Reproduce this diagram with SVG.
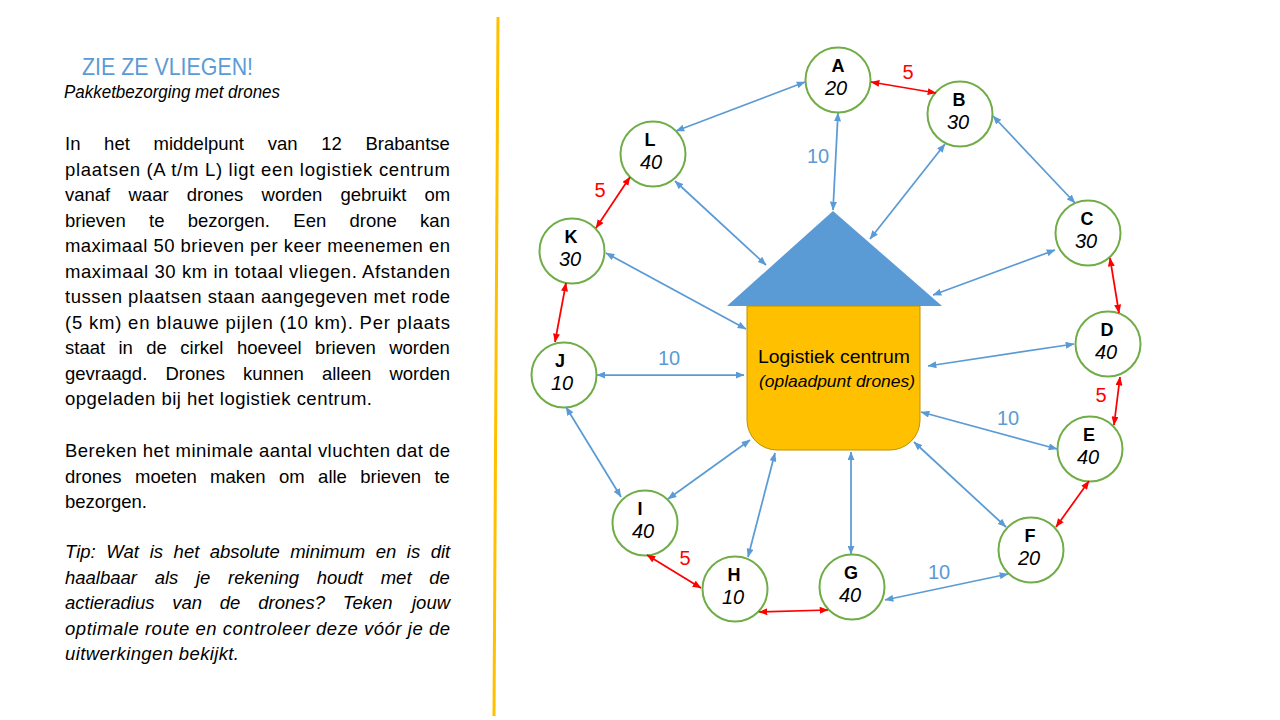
<svg xmlns="http://www.w3.org/2000/svg" width="1280" height="720" viewBox="0 0 1280 720">
<defs>
<style>
.t{font-family:"Liberation Sans",Arial,sans-serif;font-size:18.5px;fill:#000}
.i{font-style:italic}
.lb{font-family:"Liberation Sans",Arial,sans-serif;font-weight:bold;font-size:18px;text-anchor:middle;fill:#000}
.num{font-family:"Liberation Sans",Arial,sans-serif;font-style:italic;font-size:20px;text-anchor:middle;fill:#000}
.node circle{fill:#fff;stroke:#70AD47;stroke-width:2}
.b{stroke:#5B9BD5;stroke-width:1.75;fill:none;marker-start:url(#ab);marker-end:url(#ab)}
.r{stroke:#FF0000;stroke-width:1.75;fill:none;marker-start:url(#ar);marker-end:url(#ar)}
.lbl{font-family:"Liberation Sans",Arial,sans-serif;font-size:20px;text-anchor:middle}
.lr{fill:#FF0000}
.lbb{fill:#5B9BD5}
</style>
<marker id="ab" viewBox="0 0 10 8" refX="9.5" refY="4" markerWidth="9" markerHeight="7" markerUnits="userSpaceOnUse" orient="auto-start-reverse"><path d="M0,0 L10,4 L0,8 z" fill="#5B9BD5"/></marker>
<marker id="ar" viewBox="0 0 10 8" refX="9.5" refY="4" markerWidth="9" markerHeight="7" markerUnits="userSpaceOnUse" orient="auto-start-reverse"><path d="M0,0 L10,4 L0,8 z" fill="#FF0000"/></marker>
</defs>
<rect width="1280" height="720" fill="#fff"/>

<g id="text-panel">
<text x="82" y="75" font-family="'Liberation Sans',Arial,sans-serif" font-size="24" fill="#5B9BD5" textLength="171" lengthAdjust="spacingAndGlyphs">ZIE ZE VLIEGEN!</text>
<text x="64" y="98" class="t i" font-size="15.5" textLength="216" lengthAdjust="spacingAndGlyphs">Pakketbezorging met drones</text>

<text class="t" y="150"><tspan x="65">In</tspan><tspan x="104.1">het</tspan><tspan x="153.5">middelpunt</tspan><tspan x="267.7">van</tspan><tspan x="321.2">12</tspan><tspan x="365.5">Brabantse</tspan></text>
<text class="t" x="65" y="175.5" textLength="385" lengthAdjust="spacing">plaatsen (A t/m L) ligt een logistiek centrum</text>
<text class="t" y="201"><tspan x="65">vanaf</tspan><tspan x="128.5">waar</tspan><tspan x="186.8">drones</tspan><tspan x="261.6">worden</tspan><tspan x="340.5">gebruikt</tspan><tspan x="424.5">om</tspan></text>
<text class="t" y="226.5"><tspan x="65">brieven</tspan><tspan x="149">te</tspan><tspan x="187.7">bezorgen.</tspan><tspan x="293.3">Een</tspan><tspan x="349.5">drone</tspan><tspan x="420.1">kan</tspan></text>
<text class="t" x="65" y="252" textLength="385" lengthAdjust="spacing">maximaal 50 brieven per keer meenemen en</text>
<text class="t" x="65" y="277.5" textLength="385" lengthAdjust="spacing">maximaal 30 km in totaal vliegen. Afstanden</text>
<text class="t" x="65" y="303" textLength="385" lengthAdjust="spacing">tussen plaatsen staan aangegeven met rode</text>
<text class="t" x="65" y="328.5" textLength="385" lengthAdjust="spacing">(5 km) en blauwe pijlen (10 km). Per plaats</text>
<text class="t" y="354"><tspan x="65">staat</tspan><tspan x="118.5">in</tspan><tspan x="146.3">de</tspan><tspan x="180.3">cirkel</tspan><tspan x="236.9">hoeveel</tspan><tspan x="315.1">brieven</tspan><tspan x="389.2">worden</tspan></text>
<text class="t" y="379.5"><tspan x="65">gevraagd.</tspan><tspan x="165.4">Drones</tspan><tspan x="243.1">kunnen</tspan><tspan x="321.9">alleen</tspan><tspan x="389.4">worden</tspan></text>
<text class="t" x="65" y="405" textLength="307" lengthAdjust="spacing">opgeladen bij het logistiek centrum.</text>

<text class="t" x="65" y="457" textLength="385" lengthAdjust="spacing">Bereken het minimale aantal vluchten dat de</text>
<text class="t" y="482.5"><tspan x="65">drones</tspan><tspan x="135">moeten</tspan><tspan x="210.1">maken</tspan><tspan x="279">om</tspan><tspan x="318.1">alle</tspan><tspan x="360.3">brieven</tspan><tspan x="434.4">te</tspan></text>
<text class="t" x="65" y="508" textLength="82" lengthAdjust="spacing">bezorgen.</text>

<text class="t i" y="558"><tspan x="65">Tip:</tspan><tspan x="106.3">Wat</tspan><tspan x="149.7">is</tspan><tspan x="173.6">het</tspan><tspan x="209.8">absolute</tspan><tspan x="290.2">minimum</tspan><tspan x="375.7">en</tspan><tspan x="406.8">is</tspan><tspan x="430.7">dit</tspan></text>
<text class="t i" y="583.5"><tspan x="65">haalbaar</tspan><tspan x="154.7">als</tspan><tspan x="196">je</tspan><tspan x="228.1">rekening</tspan><tspan x="316.7">houdt</tspan><tspan x="380.7">met</tspan><tspan x="429.2">de</tspan></text>
<text class="t i" y="609"><tspan x="65">actieradius</tspan><tspan x="172.2">van</tspan><tspan x="219.8">de</tspan><tspan x="258.2">drones?</tspan><tspan x="342.8">Teken</tspan><tspan x="412">jouw</tspan></text>
<text class="t i" x="65" y="634.5" textLength="385" lengthAdjust="spacing">optimale route en controleer deze vóór je de</text>
<text class="t i" x="65" y="660" textLength="174" lengthAdjust="spacing">uitwerkingen bekijkt.</text>
</g>

<line id="divider" x1="498" y1="17" x2="494" y2="716" stroke="#FFC000" stroke-width="3"/>

<g id="centrum">
<path d="M747,306 H920 V420 A30,30 0 0 1 890,450 H777 A30,30 0 0 1 747,420 Z" fill="#FFC000" stroke="#BF9000" stroke-width="1"/>
<polygon points="833,211 727,306 942,306" fill="#5B9BD5"/>
<text x="834" y="363" font-family="'Liberation Sans',Arial,sans-serif" font-size="19" text-anchor="middle" textLength="152" lengthAdjust="spacingAndGlyphs">Logistiek centrum</text>
<text x="837" y="387" font-family="'Liberation Sans',Arial,sans-serif" font-size="17" font-style="italic" text-anchor="middle" textLength="156" lengthAdjust="spacingAndGlyphs">(oplaadpunt drones)</text>
</g>

<g id="node-A" class="node"><circle cx="838" cy="80" r="32.5"/><text class="lb" x="838" y="72">A</text><text class="num" x="836" y="95">20</text></g>
<g id="node-B" class="node"><circle cx="960" cy="114" r="32.5"/><text class="lb" x="959" y="106">B</text><text class="num" x="958" y="129">30</text></g>
<g id="node-C" class="node"><circle cx="1088" cy="233" r="32.5"/><text class="lb" x="1087" y="225">C</text><text class="num" x="1086" y="248">30</text></g>
<g id="node-D" class="node"><circle cx="1108" cy="344" r="32.5"/><text class="lb" x="1107" y="336">D</text><text class="num" x="1106" y="359">40</text></g>
<g id="node-E" class="node"><circle cx="1090" cy="449" r="32.5"/><text class="lb" x="1089" y="441">E</text><text class="num" x="1088" y="464">40</text></g>
<g id="node-F" class="node"><circle cx="1031" cy="550" r="32.5"/><text class="lb" x="1030" y="542">F</text><text class="num" x="1029" y="565">20</text></g>
<g id="node-G" class="node"><circle cx="852" cy="587" r="32.5"/><text class="lb" x="851" y="579">G</text><text class="num" x="850" y="602">40</text></g>
<g id="node-H" class="node"><circle cx="735" cy="589" r="32.5"/><text class="lb" x="734" y="581">H</text><text class="num" x="733" y="604">10</text></g>
<g id="node-I" class="node"><circle cx="645" cy="523" r="32.5"/><text class="lb" x="640" y="515">I</text><text class="num" x="643" y="538">40</text></g>
<g id="node-J" class="node"><circle cx="564" cy="375" r="32.5"/><text class="lb" x="560" y="367">J</text><text class="num" x="562" y="390">10</text></g>
<g id="node-K" class="node"><circle cx="572" cy="251" r="32.5"/><text class="lb" x="571" y="243">K</text><text class="num" x="570" y="266">30</text></g>
<g id="node-L" class="node"><circle cx="653" cy="154" r="32.5"/><text class="lb" x="650" y="146">L</text><text class="num" x="651" y="169">40</text></g>

<g id="connectors">
<line class="b" x1="805" y1="82" x2="676" y2="131"/>
<line class="b" x1="838" y1="113" x2="833" y2="210"/>
<line class="b" x1="945" y1="144" x2="870" y2="239"/>
<line class="b" x1="993" y1="116" x2="1075" y2="203"/>
<line class="b" x1="1055" y1="250" x2="933" y2="295"/>
<line class="b" x1="1074" y1="344" x2="928" y2="366"/>
<line class="b" x1="1057" y1="449" x2="921" y2="412"/>
<line class="b" x1="1006" y1="527" x2="914" y2="442"/>
<line class="b" x1="1008" y1="574" x2="885" y2="600"/>
<line class="b" x1="851" y1="554" x2="851" y2="452"/>
<line class="b" x1="748" y1="557" x2="775" y2="453"/>
<line class="b" x1="668" y1="499" x2="750" y2="440"/>
<line class="b" x1="621" y1="497" x2="566" y2="407"/>
<line class="b" x1="597" y1="375" x2="744" y2="375"/>
<line class="b" x1="606" y1="253" x2="746" y2="329"/>
<line class="b" x1="675" y1="181" x2="766" y2="265"/>

<line class="r" x1="871" y1="82" x2="936" y2="93"/>
<line class="r" x1="1110" y1="258" x2="1119" y2="313"/>
<line class="r" x1="1120" y1="377" x2="1114" y2="425"/>
<line class="r" x1="1089" y1="481" x2="1056" y2="527"/>
<line class="r" x1="828" y1="610" x2="759" y2="612"/>
<line class="r" x1="701" y1="588" x2="647" y2="555"/>
<line class="r" x1="555" y1="342" x2="566" y2="283"/>
<line class="r" x1="596" y1="228" x2="630" y2="177"/>

<text class="lbl lr" x="908" y="79">5</text>
<text class="lbl lbb" x="818" y="163">10</text>
<text class="lbl lr" x="600" y="197">5</text>
<text class="lbl lbb" x="669" y="365">10</text>
<text class="lbl lr" x="1101" y="402">5</text>
<text class="lbl lbb" x="1008" y="425">10</text>
<text class="lbl lr" x="685" y="565">5</text>
<text class="lbl lbb" x="939" y="579">10</text>
</g>
</svg>
